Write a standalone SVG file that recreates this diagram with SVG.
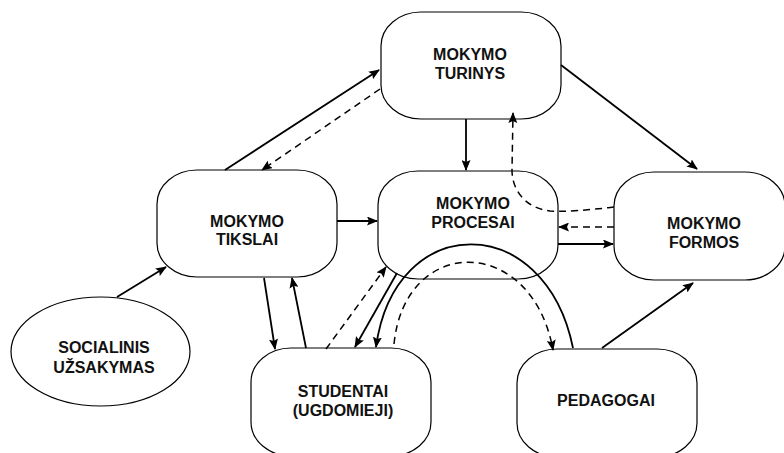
<svg xmlns="http://www.w3.org/2000/svg" width="784" height="453" viewBox="0 0 784 453">
<style>
.node{fill:#fff;stroke:#000;stroke-width:1.2}
.lbl{font-family:"Liberation Sans",Arial,sans-serif;font-weight:bold;font-size:16px;text-anchor:middle;fill:#111}
.c{fill:none;stroke:#000;stroke-width:1.8}
.d{fill:none;stroke:#000;stroke-width:1.5;stroke-dasharray:7,5}
</style>
<defs>
<marker id="ar" markerUnits="userSpaceOnUse" markerWidth="11" markerHeight="9" refX="10" refY="4.5" orient="auto">
<path d="M0,0 L11,4.5 L0,9 L2,4.5 z" fill="#000"/>
</marker>
</defs>
<rect width="784" height="453" fill="#fff"/>
<g id="turinys">
<rect class="node" x="381" y="12" width="180" height="107" rx="40" ry="34"/>
<text class="lbl" x="470" y="60">MOKYMO</text>
<text class="lbl" x="470" y="79">TURINYS</text>
</g>
<g id="tikslai">
<rect class="node" x="157" y="170" width="180" height="107" rx="40" ry="34"/>
<text class="lbl" x="247" y="227">MOKYMO</text>
<text class="lbl" x="247" y="245">TIKSLAI</text>
</g>
<g id="procesai">
<rect class="node" x="378" y="171" width="180" height="108" rx="40" ry="34"/>
<text class="lbl" x="473" y="209">MOKYMO</text>
<text class="lbl" x="473" y="228">PROCESAI</text>
</g>
<g id="formos">
<rect class="node" x="614" y="172" width="171" height="108" rx="40" ry="34"/>
<text class="lbl" x="704" y="229">MOKYMO</text>
<text class="lbl" x="704" y="248">FORMOS</text>
</g>
<g id="socialinis">
<ellipse class="node" cx="100.5" cy="351.5" rx="89.5" ry="54.5"/>
<text class="lbl" x="104" y="353">SOCIALINIS</text>
<text class="lbl" x="104" y="373">UŽSAKYMAS</text>
</g>
<g id="studentai">
<rect class="node" x="251" y="348" width="180" height="108" rx="40" ry="34"/>
<text class="lbl" x="343" y="397">STUDENTAI</text>
<text class="lbl" x="343" y="416">(UGDOMIEJI)</text>
</g>
<g id="pedagogai">
<rect class="node" x="517" y="349" width="180" height="108" rx="40" ry="34"/>
<text class="lbl" x="606" y="406">PEDAGOGAI</text>
</g>
<g id="connectors">
<path class="c" d="M225,170 L379,70" marker-end="url(#ar)"/>
<path class="d" d="M380,89 L262,170" marker-end="url(#ar)"/>
<path class="c" d="M337,221 L377,221" marker-end="url(#ar)"/>
<path class="c" d="M466,119 L466,170" marker-end="url(#ar)"/>
<path class="c" d="M561,65 L697,169" marker-end="url(#ar)"/>
<path class="d" d="M614,207 C590,210 565,212 550,211 C525,208 512,190 512,170 L513,113" marker-end="url(#ar)"/>
<path class="d" d="M614,227 L559,227" marker-end="url(#ar)"/>
<path class="c" d="M558,244 L613,244" marker-end="url(#ar)"/>
<path class="c" d="M602,348 L693,283" marker-end="url(#ar)"/>
<path class="c" d="M117,297 L166,267" marker-end="url(#ar)"/>
<path class="c" d="M264,278 L275,349" marker-end="url(#ar)"/>
<path class="c" d="M306,348 L292,278" marker-end="url(#ar)"/>
<path class="d" d="M326,349 L386,267" marker-end="url(#ar)"/>
<path class="c" d="M397,273 L355,347" marker-end="url(#ar)"/>
<path class="c" d="M573,348 C545,210 395,210 376,347" marker-end="url(#ar)"/>
<path class="d" d="M394,344 C405,234 532,234 553,350" marker-end="url(#ar)"/>
</g>
</svg>
